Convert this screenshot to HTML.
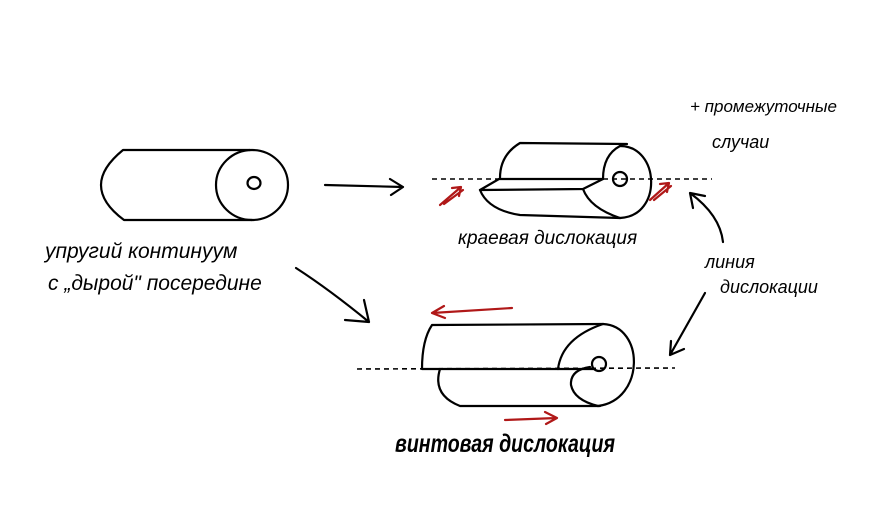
<!DOCTYPE html>
<html><head><meta charset="utf-8"><style>
html,body{margin:0;padding:0;background:#fff;}
svg{display:block;}
text{font-family:"Liberation Sans","DejaVu Sans",sans-serif;font-style:italic;fill:#000;}
</style></head><body>
<svg width="874" height="528" viewBox="0 0 874 528" xmlns="http://www.w3.org/2000/svg">
<g fill="none" stroke="#000" stroke-width="2.2" stroke-linecap="round" stroke-linejoin="round">
<!-- cylinder 1 -->
<path d="M250 150 L123 150 Q101 168 101 185 Q101 203 124 220 L252 220"/>
<ellipse cx="252" cy="185" rx="36" ry="35"/>
<ellipse cx="254" cy="183" rx="6.5" ry="6"/>
<!-- arrows from cylinder 1 -->
<path d="M325 185 L403 187 M390 179 L403 187 L391 195"/>
<path d="M296 268 Q330 290 369 322 M345 320 L369 322 L364 300"/>
<!-- edge dislocation -->
<path d="M627 144 L520 143 Q500 155 500 178"/>
<path d="M499 179 L480 190 L583 189 L603 179 L499 179"/>
<path d="M480 190 Q488 210 520 215 L620 218"/>
<path d="M620 146 Q603 155 603 179"/>
<path d="M583 189 Q590 208 620 218"/>
<path d="M620 146 C660 146 663 216 620 218"/>
<circle cx="620" cy="179" r="7"/>
<!-- screw dislocation -->
<path d="M603 324 L432 325 Q422 340 422 369 L595 369"/>
<path d="M440 369 Q432 395 460 406 L600 406"/>
<path d="M603 324 Q562 338 558 369"/>
<path d="M590 367 Q570 370 571 385 Q574 400 598 406"/>
<path d="M603 324 C645 326 645 400 598 406"/>
<circle cx="599" cy="364" r="7"/>
<!-- line of dislocation arrows -->
<path d="M723 242 Q720 215 690 193 M690 193 L693 208 M690 193 L705 196"/>
<path d="M705 293 L670 355 M670 355 L684 349 M670 355 L671 341"/>
</g>
<g stroke="#000" stroke-width="1.6" stroke-dasharray="5,4" fill="none">
<path d="M432 179 L712 179"/>
<path d="M357 369 L675 368"/>
</g>
<g fill="none" stroke="#b01818" stroke-width="2.2" stroke-linecap="round" stroke-linejoin="round">
<path d="M440 205 L461 187 M452 188 L461 187 L459 196 M444 204 L463 190"/>
<path d="M650 200 L669 183 M660 184 L669 183 L667 192 M654 200 L671 186"/>
<path d="M512 308 L432 313 M444 306 L432 313 L445 318"/>
<path d="M505 420 L557 418 M545 412 L557 418 L546 424"/>
</g>
<text x="45" y="258" font-size="21">упругий континуум</text>
<text x="48" y="290" font-size="21">с  „дырой" посередине</text>
<text x="458" y="244" font-size="19">краевая дислокация</text>
<text x="395" y="452" font-size="25" font-weight="bold" textLength="220" lengthAdjust="spacingAndGlyphs">винтовая дислокация</text>
<text x="690" y="112" font-size="17">+ промежуточные</text>
<text x="712" y="148" font-size="18">случаи</text>
<text x="705" y="268" font-size="18">линия</text>
<text x="720" y="293" font-size="18">дислокации</text>
</svg>
</body></html>
